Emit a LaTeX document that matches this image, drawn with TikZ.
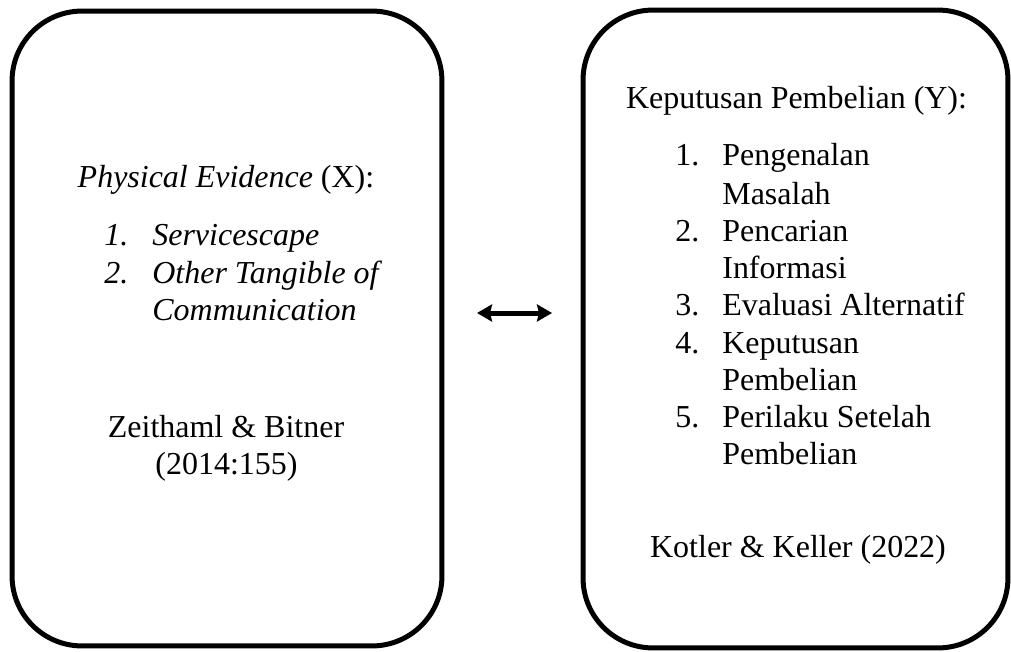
\documentclass[tikz,border=0pt]{standalone}
\usepackage{fontspec}
\setmainfont{Liberation Serif}
\usetikzlibrary{arrows.meta,positioning}
\tikzset{
	panel/.style={draw, line width=0.1cm, rounded corners=1.4cm, inner sep=0pt}, % the two rounded frames
	txt/.style={font=\fontsize{18.2}{21.2}\selectfont, inner sep=0pt, anchor=base}, % centred lines
	item/.style={txt, anchor=base west}, % list numbers and entries
	headtip/.tip={Stealth[length=0.3cm, width=0.34cm, inset=0.04cm]}
}
\begin{document}
\begin{tikzpicture}[x=0.02cm,y=-0.02cm]
		\useasboundingbox (0,0) rectangle (1011,652);
		% Draw frames
		\node[panel, minimum width=8.6cm, minimum height=12.7cm] (boxX) at (227,328.5) {};
		\node[panel, minimum width=8.5cm, minimum height=12.76cm] (boxY) at (795.5,329) {};
		% Left frame: variable X
		\node[txt] (titleX) at (226,187) {\textit{Physical Evidence} (X):};
		\node[item] (numX1) at (104,245) {\textit{1.}};
		\node[item] (itemX1) at (152,245) {\textit{Servicescape}};
		\node[item] (numX2) at (104,283) {\textit{2.}};
		\node[item] (itemX2) at (152,283) {\textit{Other Tangible of}};
		\node[item] (itemX2b) at (152,320) {\textit{Communication}};
		\node[txt] (srcX) at (226,437) {Zeithaml \& Bitner};
		\node[txt] (srcXb) at (226.5,474) {(2014:155)};
		% Right frame: variable Y
		\node[txt] (titleY) at (796.5,109) {Keputusan Pembelian (Y):};
		\node[item] (numY1) at (675,166) {1.};
		\node[item] (itemY1) at (722,166) {Pengenalan};
		\node[item] (itemY1b) at (722,204) {Masalah};
		\node[item] (numY2) at (675,241) {2.};
		\node[item] (itemY2) at (722,241) {Pencarian};
		\node[item] (itemY2b) at (722,278) {Informasi};
		\node[item] (numY3) at (675,315) {3.};
		\node[item] (itemY3) at (722,315) {Evaluasi Alternatif};
		\node[item] (numY4) at (675,353) {4.};
		\node[item] (itemY4) at (722,353) {Keputusan};
		\node[item] (itemY4b) at (722,390) {Pembelian};
		\node[item] (numY5) at (675,427) {5.};
		\node[item] (itemY5) at (722,427) {Perilaku Setelah};
		\node[item] (itemY5b) at (722,464) {Pembelian};
		\node[txt] (srcY) at (798,557) {Kotler \& Keller (2022)};
		% Draw double arrow
		\coordinate (arrL) at (477,313);
		\coordinate (arrR) at (552,313);
		\draw[headtip-headtip, line width=0.1cm] (arrL) -- (arrR);
\end{tikzpicture}
\end{document}
